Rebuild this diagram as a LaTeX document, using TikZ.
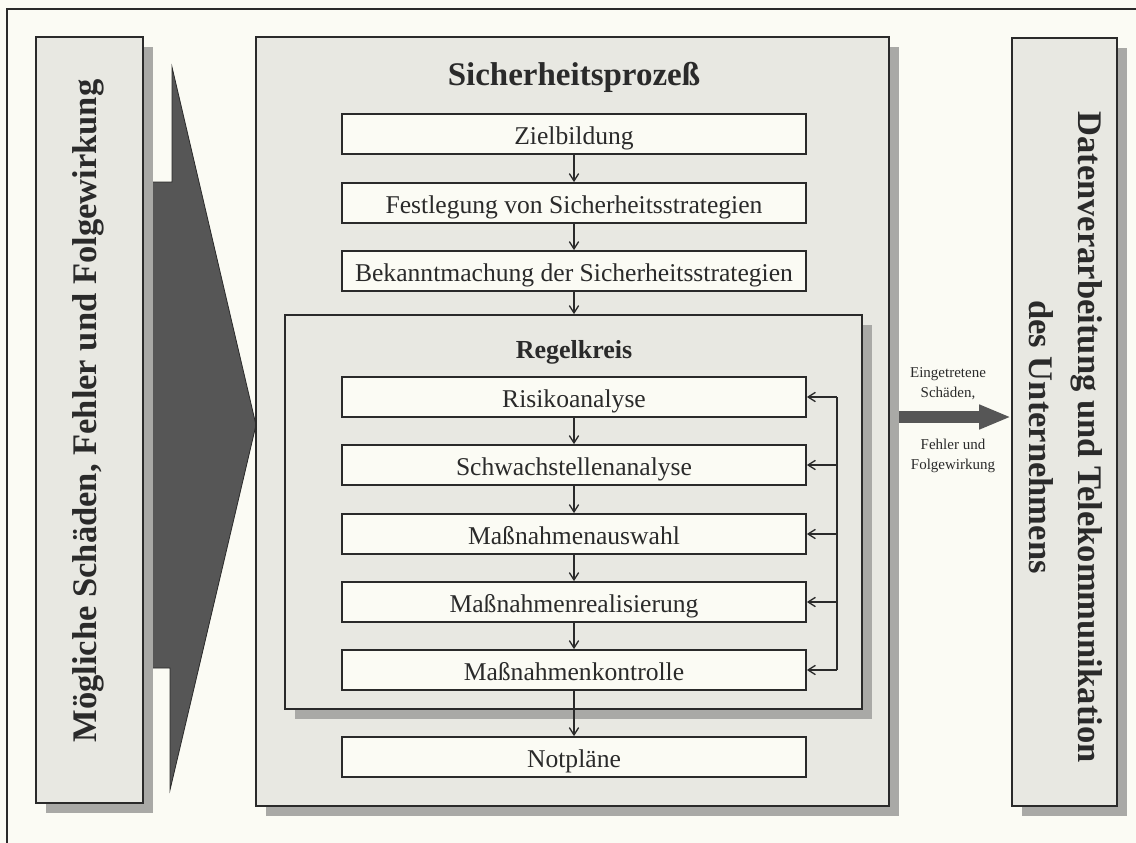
\documentclass[tikz,border=0pt]{standalone}
\usepackage{fontspec}
\setmainfont{Liberation Serif}
\usetikzlibrary{arrows.meta,shadows}

\definecolor{paper}{HTML}{FBFBF4}
\definecolor{panelgray}{HTML}{E8E8E2}
\definecolor{shade}{HTML}{A9A9A6}
\definecolor{ink}{HTML}{2A2A2A}
\definecolor{darkarrow}{HTML}{565656}

\tikzset{
  panel/.style={draw=ink, line width=1.3pt, fill=panelgray, inner sep=0pt,
    drop shadow={shadow xshift=7.5pt, shadow yshift=-7.5pt, fill=shade, opacity=1}},
  stepbox/.style={draw=ink, line width=1.3pt, fill=paper, inner sep=0pt,
    minimum width=348pt, minimum height=30pt,
    text height=16pt, text depth=1pt,
    font=\fontsize{19.2pt}{23pt}\selectfont, text=ink},
  flow/.style={draw=ink, line width=1pt, -{Straight Barb[length=5.5pt,width=7pt]}},
  sidetext/.style={font=\bfseries\fontsize{25.9pt}{37pt}\selectfont, text=ink, align=center},
  smalllabel/.style={font=\fontsize{11.25pt}{15pt}\selectfont, text=ink, align=center}
}

\begin{document}
\begin{tikzpicture}[x=0.75pt,y=-0.75pt]
\useasboundingbox (0,0) rectangle (1136,843);
\fill[paper] (0,0) rectangle (1136,843);

% frame around the whole figure; only its left and top sides fall on the page
\draw[ink, line width=1.4pt] (7,843) -- (7,9) -- (1136,9);

% broad arrow pointing into the process panel
\filldraw[fill=darkarrow, draw=ink, line width=0.6pt]
  (150,182) -- (172,182) -- (172,67) -- (256,425) -- (170,790)
  -- (170,668) -- (150,668) -- cycle;

% left panel
\node[panel, minimum width=80.25pt, minimum height=574.5pt] (lbox) at (89.5,420) {};
\node[sidetext, rotate=90] (ltext) at (88,411) {Mögliche Schäden, Fehler und Folgewirkung};

% process panel
\node[panel, minimum width=474.75pt, minimum height=576.75pt] (main) at (572.5,421.5) {};
\node[anchor=base, font=\bfseries\fontsize{24.75pt}{28pt}\selectfont, text=ink] (title) at (574,85) {Sicherheitsprozeß};

% right panel
\node[panel, minimum width=78.75pt, minimum height=576pt] (rbox) at (1064.5,422) {};
\node[sidetext, rotate=-90] (rtext) at (1066,437) {Datenverarbeitung und Telekommunikation\\des Unternehmens};

% upper process steps
\node[stepbox] (s1) at (574,134) {Zielbildung};
\node[stepbox] (s2) at (574,203) {Festlegung von Sicherheitsstrategien};
\node[stepbox] (s3) at (574,271) {Bekanntmachung der Sicherheitsstrategien};

% control loop panel
\node[panel, minimum width=432.75pt, minimum height=295.5pt] (loop) at (573.5,512) {};
\node[anchor=base, font=\bfseries\fontsize{19.5pt}{23pt}\selectfont, text=ink] (looptitle) at (574,358) {Regelkreis};

\node[stepbox] (r1) at (574,397) {Risikoanalyse};
\node[stepbox] (r2) at (574,465) {Schwachstellenanalyse};
\node[stepbox] (r3) at (574,534) {Maßnahmenauswahl};
\node[stepbox] (r4) at (574,602) {Maßnahmenrealisierung};
\node[stepbox] (r5) at (574,670) {Maßnahmenkontrolle};

\node[stepbox] (np) at (574,757) {Notpläne};

% sequence arrows
\draw[flow] (s1.south) -- (s2.north);
\draw[flow] (s2.south) -- (s3.north);
\draw[flow] (s3.south) -- (s3.south |- loop.north);
\draw[flow] (r1.south) -- (r2.north);
\draw[flow] (r2.south) -- (r3.north);
\draw[flow] (r3.south) -- (r4.north);
\draw[flow] (r4.south) -- (r5.north);
\draw[flow] (r5.south) -- (np.north);

% feedback line of the control loop
\coordinate (fb) at (837,0);
\draw[ink, line width=1pt] (fb |- r1.east) -- (fb |- r5.east);
\foreach \b in {r1,r2,r3,r4,r5}
  \draw[flow] (fb |- \b.east) -- (\b.east);

% output arrow towards the company panel
\coordinate (outstart) at (899,417);
\draw[darkarrow, line width=9pt, -{Triangle[length=24pt,width=17pt]}]
  (outstart) -- (outstart -| rbox.west);
\node[smalllabel] (lblA) at (948,384) {Eingetretene\\Schäden,};
\node[smalllabel] (lblB) at (953,456) {Fehler und\\Folgewirkung};
\end{tikzpicture}
\end{document}
